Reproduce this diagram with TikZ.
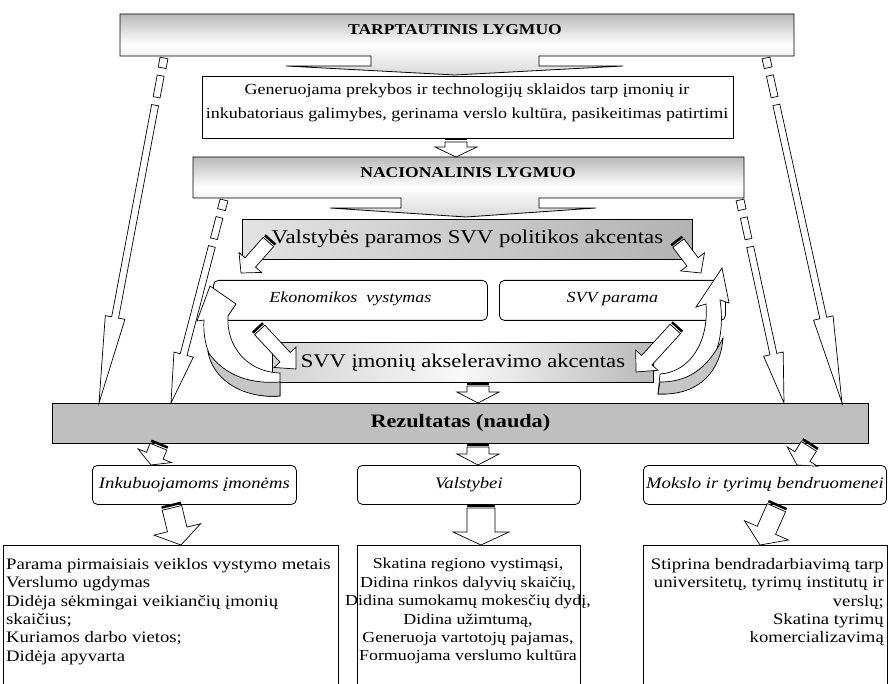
\documentclass[tikz,border=0pt]{standalone}
\usepackage{fontspec}
\setmainfont{Liberation Serif}[FakeStretch=1.17]
\newcommand\fgen{\fontsize{15.4}{24}\selectfont}
\newcommand\flevel{\bfseries\fontsize{15}{18}\selectfont}
\newcommand\fbig{\fontsize{19.5}{24}\selectfont}
\newcommand\fbigb{\fontsize{19.3}{24}\selectfont}
\newcommand\fital{\itshape\fontsize{15.4}{18}\selectfont}
\newcommand\frez{\bfseries\fontsize{19}{22}\selectfont}
\newcommand\fsmall{\itshape\fontsize{16}{19}\selectfont}
\newcommand\ftext{\fontsize{16}{18.4}\selectfont}
\newcommand\ftextb{\fontsize{15.3}{18.4}\selectfont}
\tikzset{
  bx/.style={draw, line width=0.8pt, inner sep=0pt},
  arrbody/.style={draw, fill=white, line width=0.7pt, line join=miter},
  curvbody/.style={draw, fill=white, line width=0.7pt},
  curvshade/.style={draw, fill=gray!45, line width=0.7pt},
}
% striped block arrow: from, to, stem half width, head half width, head length
\newcommand\blockarr[5]{%
  \path (#1); \pgfgetlastxy{\bxa}{\bya}%
  \path (#2); \pgfgetlastxy{\bxb}{\byb}%
  \pgfmathsetmacro\bang{atan2((\byb)-(\bya),(\bxb)-(\bxa))}%
  \pgfmathsetmacro\blen{veclen((\bxb)-(\bxa),(\byb)-(\bya))}%
  \begin{scope}[shift={(\bxa,\bya)}, rotate=\bang, x=1pt, y=1pt]
    \fill[black] (0,-#3) rectangle (2.5,#3);
    \filldraw[arrbody] (4,-#3) -- ({\blen-#5},-#3) -- ({\blen-#5},-#4) -- (\blen,0) -- ({\blen-#5},#4) -- ({\blen-#5},#3) -- (4,#3) -- cycle;
  \end{scope}}
% long arrow with broken start: from, to, head length
\newcommand\longarr[3]{%
  \path (#1); \pgfgetlastxy{\bxa}{\bya}%
  \path (#2); \pgfgetlastxy{\bxb}{\byb}%
  \pgfmathsetmacro\bang{atan2((\byb)-(\bya),(\bxb)-(\bxa))}%
  \pgfmathsetmacro\blen{veclen((\bxb)-(\bxa),(\byb)-(\bya))}%
  \begin{scope}[shift={(\bxa,\bya)}, rotate=\bang, x=1pt, y=1pt]
    \filldraw[arrbody] (0,-4) rectangle (10,4);
    \filldraw[arrbody] (18,-3.5) rectangle (40,3.5);
    \filldraw[arrbody] (48,-3.5) -- ({\blen-#3},-3.5) -- ({\blen-#3},-10) -- (\blen,0) -- ({\blen-#3},10) -- ({\blen-#3},3.5) -- (48,3.5) -- cycle;
  \end{scope}}
\begin{document}
\begin{tikzpicture}[x=1pt,y=-1pt]
\useasboundingbox (0,0) rectangle (888,684);
\clip (0,0) rectangle (888,684);

% international level (callout)
\shadedraw[line width=0.8pt, top color=gray!55, bottom color=gray!30, middle color=white]
  (120,14) -- (794,14) -- (794,56) -- (539,56) -- (539,66) -- (623,66) -- (455,75)
  -- (286,66) -- (371,66) -- (371,56) -- (120,56) -- cycle;
\node[font=\flevel] (tarpt) at (455,30) {TARPTAUTINIS LYGMUO};

\node[bx, fill=white, minimum width=531, minimum height=62, anchor=north west] (gen) at (202,76) {};
\node[font=\fgen, align=center, anchor=north, inner sep=0pt] (gentxt) at (467,83.5)
  {Generuojama prekybos ir technologijų sklaidos tarp įmonių ir\\inkubatoriaus galimybes, gerinama verslo kultūra, pasikeitimas patirtimi};

% national level (callout)
\shadedraw[line width=0.8pt, top color=gray!55, bottom color=gray!30, middle color=white]
  (193,157) -- (744,157) -- (744,198) -- (539,198) -- (539,208) -- (596,208) -- (466,217)
  -- (330,208) -- (401,208) -- (401,198) -- (193,198) -- cycle;
\node[font=\flevel] (nac) at (468,173) {NACIONALINIS LYGMUO};

\node[bx, left color=gray!22, right color=gray!60, minimum width=450, minimum height=40,
  anchor=north west, font=\fbig, text depth=6pt] (valst) at (242,219) {Valstybės paramos SVV politikos akcentas};

\node[bx, rounded corners=5pt, fill=white, minimum width=274, minimum height=40,
  anchor=north west, font=\fital, text depth=6pt] (ekon) at (213,280) {Ekonomikos~ vystymas};
\node[bx, rounded corners=5pt, fill=white, minimum width=226, minimum height=40,
  anchor=north west, font=\fital, text depth=6pt] (svvp) at (499,280) {SVV parama};

\node[bx, left color=gray!35, right color=gray!55, middle color=gray!5, minimum width=381, minimum height=40,
  anchor=north west, font=\fbigb] (svvi) at (272,342) {SVV įmonių akseleravimo akcentas};

\node[bx, fill=gray!50, minimum width=816, minimum height=40, anchor=north west, font=\frez]
  (rez) at (52,403) {Rezultatas (nauda)};

\node[bx, rounded corners=5pt, fill=white, minimum width=204, minimum height=39, anchor=north west, font=\fsmall]
  (inkub) at (92,465) {Inkubuojamoms įmonėms};
\node[bx, rounded corners=5pt, fill=white, minimum width=223, minimum height=39, anchor=north west, font=\fsmall]
  (valstb) at (357,465) {Valstybei};
\node[bx, rounded corners=5pt, fill=white, minimum width=243, minimum height=39, anchor=north west, font=\fsmall]
  (mokslo) at (643,465) {Mokslo ir tyrimų bendruomenei};

\node[bx, minimum width=335, minimum height=170, anchor=north west] (fin1) at (3,545) {};
\node[bx, minimum width=223, minimum height=170, anchor=north west] (fin2) at (357,545) {};
\node[bx, minimum width=244, minimum height=170, anchor=north west] (fin3) at (643,545) {};
\node[font=\ftext, align=left, anchor=north west, inner sep=0pt] (fin1t) at (6,558)
  {Parama pirmaisiais veiklos vystymo metais\\Verslumo ugdymas\\Didėja sėkmingai veikiančių įmonių\\skaičius;\\Kuriamos darbo vietos;\\Didėja apyvarta};
\node[font=\ftextb, align=center, anchor=north, inner sep=0pt] (fin2t) at (468,558)
  {Skatina regiono vystimąsi,\\Didina rinkos dalyvių skaičių,\\Didina sumokamų mokesčių dydį,\\Didina užimtumą,\\Generuoja vartotojų pajamas,\\Formuojama verslumo kultūra};
\node[font=\ftext, align=right, anchor=north east, inner sep=0pt] (fin3t) at (884,558)
  {Stiprina bendradarbiavimą tarp\\universitetų, tyrimų institutų ir\\verslų;\\Skatina tyrimų\\komercializavimą};

% curved arrows
\filldraw[curvbody] (280,396) .. controls (236,400) and (201,366) .. (204,320)
  -- (197,321) -- (210,286) -- (236,304) -- (228,316)
  .. controls (226,345) and (246,372) .. (280,373) -- cycle;
\filldraw[curvshade] (280,396) .. controls (238,399) and (212,376) .. (208,352)
  .. controls (226,378) and (254,384) .. (280,382) -- cycle;

\filldraw[curvbody] (658,394) .. controls (702,396) and (728,352) .. (720,300)
  -- (729,303) -- (722,268) -- (696,307) -- (706,304)
  .. controls (709,342) and (690,372) .. (660,374) -- cycle;
\filldraw[curvshade] (658,394) .. controls (702,396) and (721,368) .. (723,338)
  .. controls (706,372) and (685,382) .. (660,382) -- cycle;

% long arrows
\coordinate (l1s) at (164,58); \coordinate (l1e) at (99,403);
\coordinate (l2s) at (224,200); \coordinate (l2e) at (171,403);
\coordinate (r1s) at (766,58); \coordinate (r1e) at (842,403);
\coordinate (r2s) at (740,200); \coordinate (r2e) at (784,403);
\longarr{l1s}{l1e}{87}
\longarr{l2s}{l2e}{50}
\longarr{r1s}{r1e}{87}
\longarr{r2s}{r2e}{50}

% striped block arrows
\coordinate (aAs) at (456,138); \coordinate (aAe) at (456,157);
\coordinate (aBs) at (478,382); \coordinate (aBe) at (478,403);
\coordinate (aCs) at (478,443); \coordinate (aCe) at (478,465);
\coordinate (aDs) at (160,443); \coordinate (aDe) at (151,465);
\coordinate (aEs) at (811,443); \coordinate (aEe) at (797,465);
\coordinate (aFs) at (171,504); \coordinate (aFe) at (181,545);
\coordinate (aGs) at (481,504); \coordinate (aGe) at (481,545);
\coordinate (aHs) at (778,504); \coordinate (aHe) at (760,545);
\coordinate (d1s) at (271,239); \coordinate (d1e) at (241,273);
\coordinate (d2s) at (676,240); \coordinate (d2e) at (701,273);
\coordinate (d3s) at (257,327); \coordinate (d3e) at (296,369);
\coordinate (d4s) at (678,326); \coordinate (d4e) at (636,372);
\blockarr{aAs}{aAe}{11}{21}{10}
\blockarr{aBs}{aBe}{11}{21}{11}
\blockarr{aCs}{aCe}{11}{21}{11}
\blockarr{aDs}{aDe}{9}{18}{10}
\blockarr{aEs}{aEe}{9}{18}{10}
\blockarr{aFs}{aFe}{10}{24}{16}
\blockarr{aGs}{aGe}{14}{28}{13}
\blockarr{aHs}{aHe}{10}{24}{16}
\blockarr{d1s}{d1e}{7}{15}{14}
\blockarr{d2s}{d2e}{7}{15}{14}
\blockarr{d3s}{d3e}{7}{15}{16}
\blockarr{d4s}{d4e}{7}{15}{16}
\end{tikzpicture}
\end{document}
